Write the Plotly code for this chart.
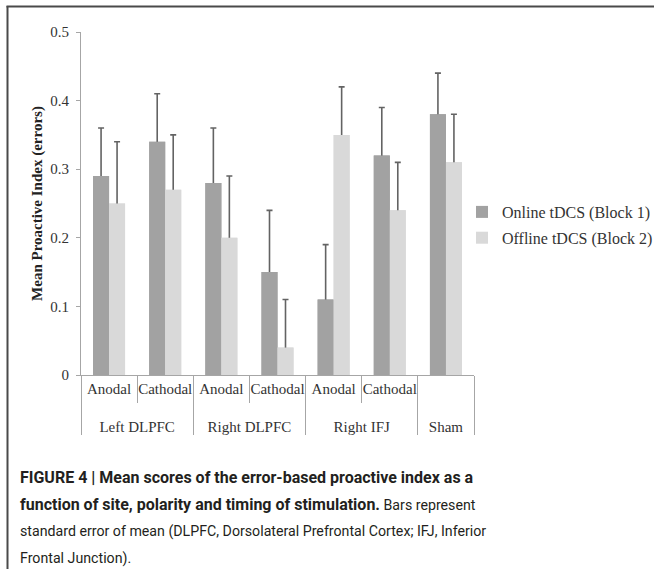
import plotly.graph_objects as go

sites = ["Left DLPFC", "Left DLPFC", "Right DLPFC", "Right DLPFC", "Right IFJ", "Right IFJ", "Sham"]
polarity = ["Anodal", "Cathodal", "Anodal", "Cathodal", "Anodal", "Cathodal", ""]
online = [0.29, 0.34, 0.28, 0.15, 0.11, 0.32, 0.38]
online_err = [0.07, 0.07, 0.08, 0.09, 0.08, 0.07, 0.06]
offline = [0.25, 0.27, 0.20, 0.04, 0.35, 0.24, 0.31]
offline_err = [0.09, 0.08, 0.09, 0.07, 0.07, 0.07, 0.07]
series_names = ["Online tDCS (Block 1)", "Offline tDCS (Block 2)"]
y_ticks = [0, 0.1, 0.2, 0.3, 0.4, 0.5]
y_ticklabels = ["0", "0.1", "0.2", "0.3", "0.4", "0.5"]

c_online = "#a2a2a2"
c_offline = "#d9d9d9"
c_err = "#636363"
serif = "Liberation Serif, Times New Roman, serif"
sans = "Roboto, Liberation Sans, sans-serif"

# outer (site) labels get a leading line break so the second label row sits lower
x = [["<br>" + s for s in sites], polarity]
fig = go.Figure()

# error-bar carriers (drawn first, then covered by the visible bars)
for vals, errs, col, grp in [(online, online_err, c_online, "a"), (offline, offline_err, c_offline, "b")]:
    fig.add_trace(go.Bar(
        x=x, y=vals, offsetgroup=grp, marker=dict(color=col, line=dict(width=0)),
        showlegend=False, hoverinfo="skip",
        error_y=dict(type="data", symmetric=False, array=errs,
                     arrayminus=[0.02] * len(errs), color=c_err, thickness=1.6, width=3),
    ))
for vals, col, grp, name in [(online, c_online, "a", series_names[0]), (offline, c_offline, "b", series_names[1])]:
    fig.add_trace(go.Bar(
        x=x, y=vals, offsetgroup=grp, name=name, legendgroup=grp,
        marker=dict(color=col, line=dict(width=0)),
    ))

W, H = 654, 569
L, R, T, B = 81, 180, 32, 194
pw, ph = W - L - R, H - T - B


def px_x(p):
    return (p - L) / pw


def px_y(p):
    return (H - B - p) / ph


fig.update_layout(
    width=W, height=H,
    margin=dict(l=L, r=R, t=T, b=B, autoexpand=False),
    paper_bgcolor="white", plot_bgcolor="white",
    barmode="group", bargap=0.43, bargroupgap=0,
    showlegend=True,
    legend=dict(x=px_x(462), y=px_y(225), xanchor="left", yanchor="middle",
                font=dict(family=serif, size=16, color="#333333"),
                bgcolor="rgba(0,0,0,0)", tracegroupgap=2, itemwidth=30),
    xaxis=dict(type="multicategory", showline=True, linecolor="#a6a6a6", linewidth=1,
               ticks="outside", tickson="boundaries", ticklen=27, tickcolor="#a6a6a6",
               tickangle=0,
               showdividers=True, dividercolor="#a6a6a6", dividerwidth=1,
               tickfont=dict(family=serif, size=15, color="#333333"), showgrid=False,
               zeroline=False),
    yaxis=dict(range=[0, 0.5], tickvals=y_ticks, ticktext=y_ticklabels,
               showline=True, linecolor="#a6a6a6", linewidth=1,
               ticks="outside", ticklen=4, tickcolor="#a6a6a6",
               showgrid=False, zeroline=False, ticklabelstandoff=4,
               tickfont=dict(family=serif, size=15, color="#333333"),
               title=dict(text="Mean Proactive Index (errors)", standoff=4,
                          font=dict(family=serif, size=15, color="#222222", weight="bold"))),
    font=dict(family=serif),
)

# frame
fig.add_shape(type="line", xref="paper", yref="paper", layer="above",
              x0=px_x(7.5), x1=px_x(7.5), y0=px_y(569), y1=px_y(6),
              line=dict(color="#4a4a4a", width=2))
fig.add_shape(type="line", xref="paper", yref="paper", layer="above",
              x0=px_x(6.5), x1=px_x(654), y0=px_y(6.5), y1=px_y(6.5),
              line=dict(color="#4a4a4a", width=2))

b16 = "<span style='font-size:16px'><b>{}</b></span>"
r14 = "<span style='font-size:14.2px'>{}</span>"
caption = [
    b16.format("FIGURE 4 | Mean scores of the error-based proactive index as a"),
    b16.format("function of site, polarity and timing of stimulation.") + r14.format(" Bars represent"),
    r14.format("standard error of mean (DLPFC, Dorsolateral Prefrontal Cortex; IFJ, Inferior"),
    r14.format("Frontal Junction)."),
]
for i, line in enumerate(caption):
    fig.add_annotation(x=px_x(18), y=px_y(477.5 + 27 * i), xref="paper", yref="paper",
                       xanchor="left", yanchor="middle", showarrow=False, text=line,
                       font=dict(family=sans, size=15, color="#231f20"))

fig.write_html("out.html", config={"displayModeBar": False},
               post_script="document.body.style.margin='0px';")
